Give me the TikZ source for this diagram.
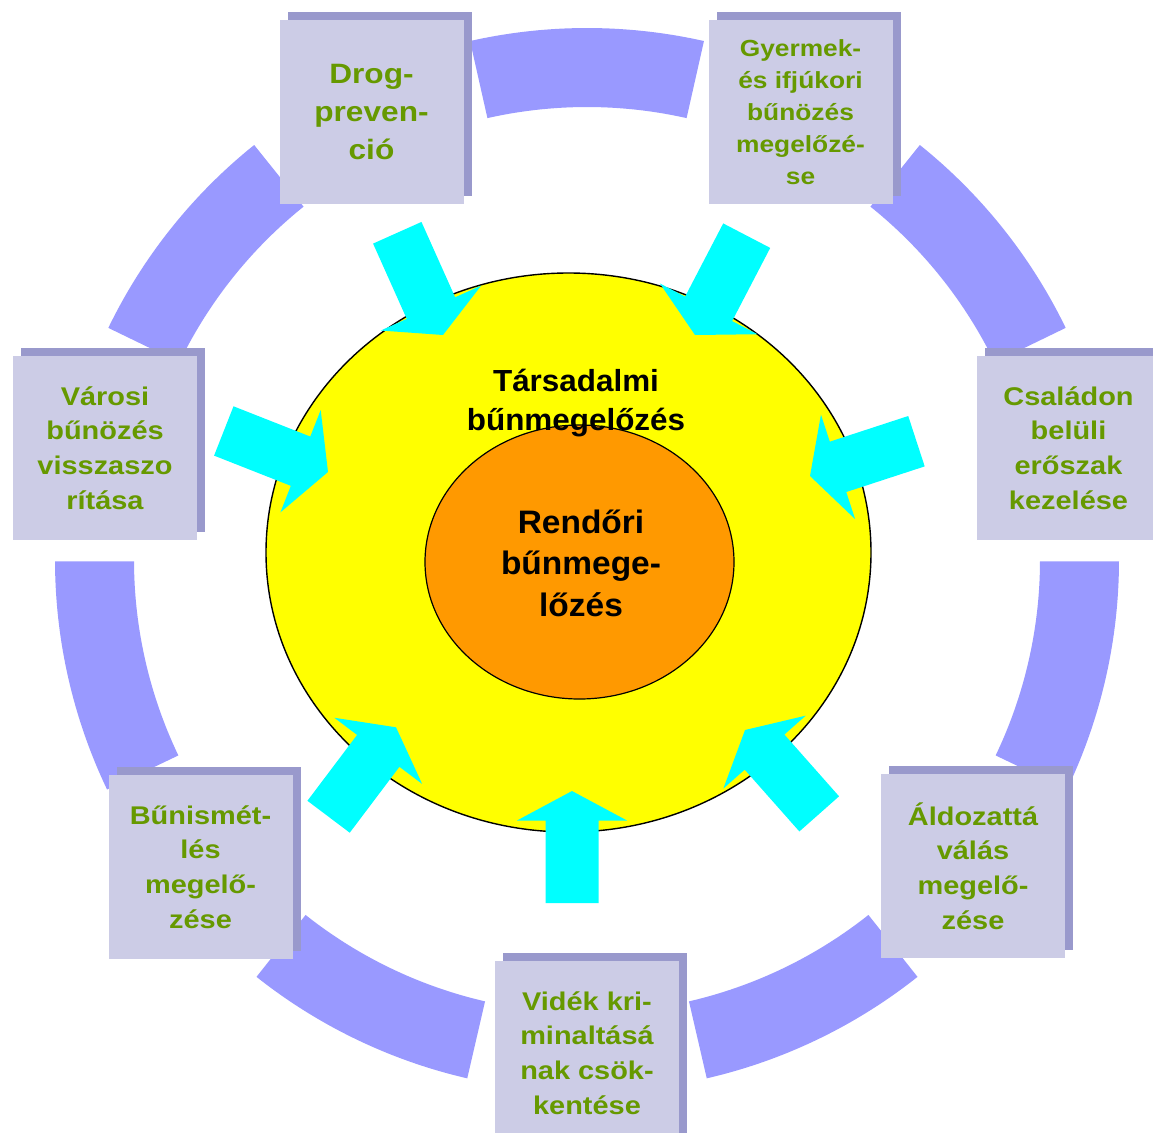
\documentclass[tikz,border=0pt]{standalone}
\usepackage{fontspec}
\usetikzlibrary{shadows}
\newfontfamily\tilefont[FakeStretch=1.13]{Liberation Sans}
\newfontfamily\corefont[FakeStretch=1.03]{Liberation Sans}
\definecolor{ringblue}{HTML}{9999FF}
\definecolor{tileface}{HTML}{CCCCE6}
\definecolor{tileshade}{HTML}{9999CC}
\definecolor{leafgreen}{HTML}{669900}
\definecolor{coreorange}{HTML}{FF9900}
\definecolor{coreyellow}{HTML}{FFFF00}
\definecolor{arrowcyan}{HTML}{00FFFF}
\tikzset{tile/.style = {fill=tileface, minimum size=184pt, inner sep=0pt,
                        align=center, text=leafgreen,
                        general shadow={fill=tileshade, shadow xshift=8pt, shadow yshift=8pt},
                        font=\tilefont\bfseries\fontsize{25.6}{34.8}\selectfont}}
\tikzset{core/.style = {align=center, inner sep=0pt,
                        font=\corefont\bfseries\fontsize{30.5}{38.5}\selectfont}}

\begin{document}
\begin{tikzpicture}[x=1pt, y=-1pt]
  \clip (0,0) rectangle (1153,1132);
  \fill [white] (0,0) rectangle (1153,1132);

  % ring pieces between the tiles
  \foreach \c in {-90, -38.57, 12.86, 64.29, 115.71, 167.14, 218.57} {
    \fill [ringblue, shift={(587,560)}] (\c-12.7:453)
      arc [start angle=\c-12.7, end angle=\c+12.7, radius=453]
      -- (\c+12.7:532)
      arc [start angle=\c+12.7, end angle=\c-12.7, radius=532] -- cycle;
  }

  \node [tile, font=\tilefont\bfseries\fontsize{28}{38}\selectfont] (drog) at (371.5,112) {Drog-\\preven-\\ció};
  \node [tile, font=\tilefont\bfseries\fontsize{23.3}{32}\selectfont] (youth) at (800.5,112) {Gyermek-\\és ifjúkori\\bűnözés\\megelőzé-\\se};
  \node [tile] (urban) at (105,448) {Városi\\bűnözés\\visszaszo\\rítása};
  \node [tile] (family) at (1068.5,448) {Családon\\belüli\\erőszak\\kezelése};
  \node [tile] (victim) at (973,866) {Áldozattá\\válás\\megelő-\\zése};
  \node [tile] (relapse) at (200.5,867) {Bűnismét-\\lés\\megelő-\\zése};
  \node [tile] (rural) at (587,1053) {Vidék kri-\\minaltásá\\nak csök-\\kentése};

  \draw [fill=coreyellow, line width=1.4pt] (568.5,552.5) ellipse [x radius=302.5, y radius=279.5];
  \draw [fill=coreorange, line width=1.2pt] (579.5,562) ellipse [x radius=154.5, y radius=137];

  % inward arrows: tip x / tip y / direction
  \foreach \x/\y/\a in {443/335/-65.9, 695/335/-117.5, 328/472/-21.5, 810/476/198.1,
                        396/727.3/53, 745/730/131.5, 572/791/90} {
    \fill [arrowcyan, shift={(\x,\y)}, rotate=\a] (0,0) -- (-29.5,55) -- (-29.5,26.5)
      -- (-112,26.5) -- (-112,-26.5) -- (-29.5,-26.5) -- (-29.5,-55) -- cycle;
  }

  \node [core] (social) at (576,403) {Társadalmi\\bűnmegelőzés};
  \node [core, font=\corefont\bfseries\fontsize{32.5}{41.5}\selectfont] (police) at (581,563) {Rendőri\\bűnmege-\\lőzés};
\end{tikzpicture}
\end{document}
